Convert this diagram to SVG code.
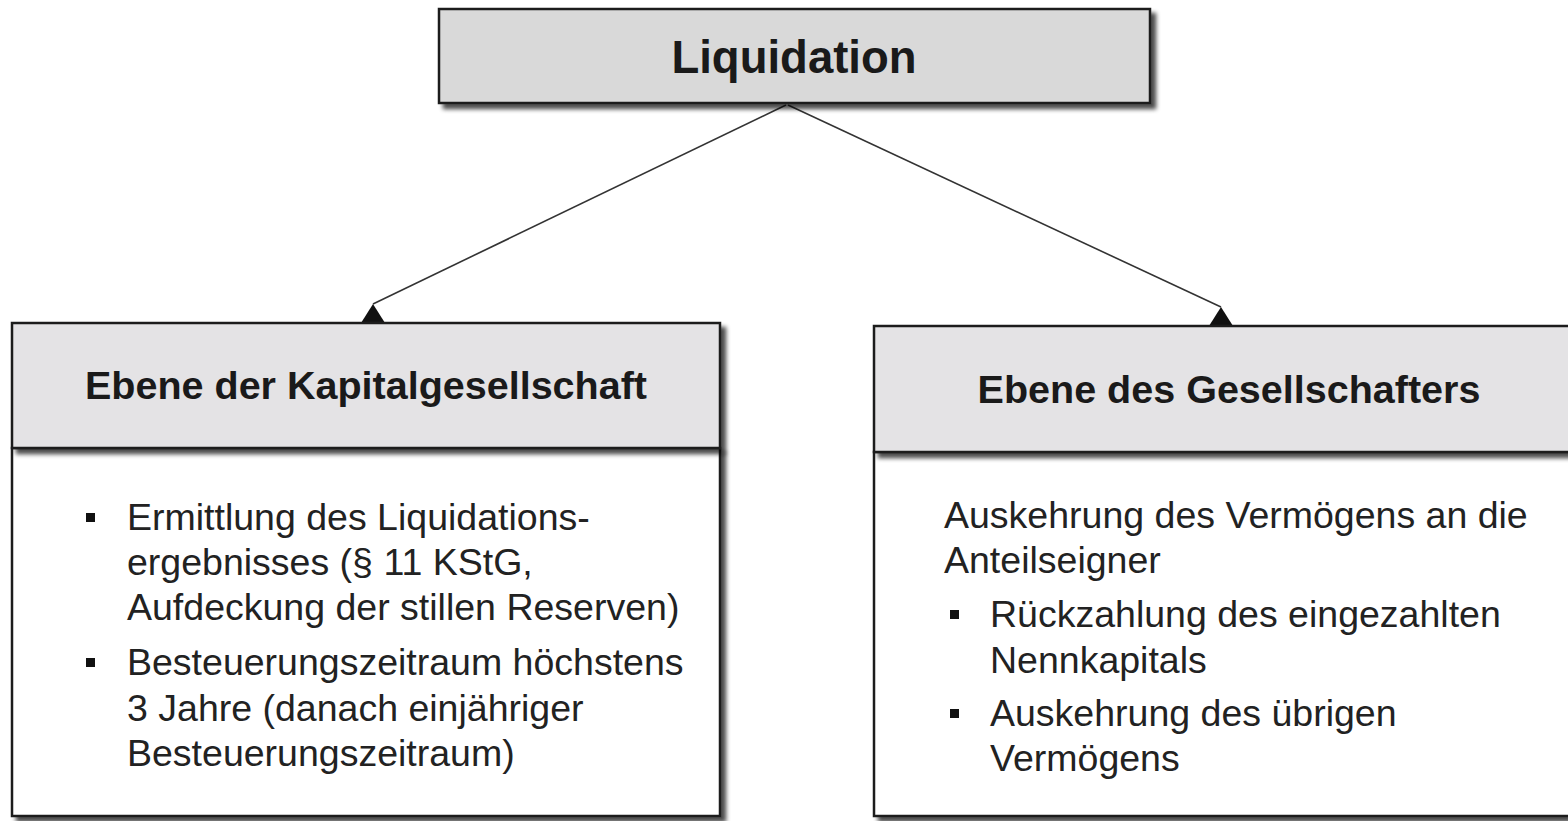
<svg xmlns="http://www.w3.org/2000/svg" width="1568" height="821" viewBox="0 0 1568 821">
<style>
.box{stroke:#1a1a1a;stroke-width:2.5}
.top{fill:#d9d9d9}
.hdr{fill:#e4e3e5}
.body{fill:#ffffff}
.t{font-family:"Liberation Sans",Arial,sans-serif;fill:#1a1a1a}
.b{font-weight:bold}
.h{font-size:39.5px;font-weight:bold;text-anchor:middle}
.p{font-size:37.5px;fill:#222}
.bul{fill:#111}
.con{stroke:#333;stroke-width:1.6;fill:none}
</style>
<defs>
<filter id="sh" x="-5%" y="-10%" width="115%" height="130%">
<feGaussianBlur in="SourceAlpha" stdDeviation="2"/>
<feOffset dx="5" dy="5" result="o"/>
<feComponentTransfer><feFuncA type="linear" slope="0.7"/></feComponentTransfer>
<feMerge><feMergeNode/><feMergeNode in="SourceGraphic"/></feMerge>
</filter>
<marker id="ah" markerUnits="userSpaceOnUse" markerWidth="26" markerHeight="22" refX="12" refY="0" orient="0" overflow="visible">
<path d="M0,19 L12,0 L24,19 z" fill="#111"/>
</marker>
</defs>
<rect width="1568" height="821" fill="#ffffff"/>
<g id="connectors">
<line class="con" x1="786" y1="105" x2="373" y2="304" marker-end="url(#ah)"/>
<line class="con" x1="788" y1="105" x2="1221" y2="307" marker-end="url(#ah)"/>
</g>
<g id="liquidation">
<rect class="box top" x="439" y="9" width="711" height="94" filter="url(#sh)"/>
<text class="t b" x="794" y="73" font-size="45.5" text-anchor="middle">Liquidation</text>
</g>
<g id="kapitalgesellschaft">
<rect class="box body" x="12" y="448" width="708" height="368" filter="url(#sh)"/>
<rect class="box hdr" x="12" y="323" width="708" height="125" filter="url(#sh)"/>
<text class="t h" x="366" y="399">Ebene der Kapitalgesellschaft</text>
<rect class="bul" x="86" y="513" width="9" height="9"/>
<rect class="bul" x="86" y="658" width="9" height="9"/>
<text class="t p"><tspan x="127" y="530">Ermittlung des Liquidations-</tspan><tspan x="127" y="575">ergebnisses (§ 11 KStG,</tspan><tspan x="127" y="620">Aufdeckung der stillen Reserven)</tspan><tspan x="127" y="675">Besteuerungszeitraum höchstens</tspan><tspan x="127" y="721">3 Jahre (danach einjähriger</tspan><tspan x="127" y="766">Besteuerungszeitraum)</tspan></text>
</g>
<g id="gesellschafter">
<rect class="box body" x="874" y="452" width="710" height="364" filter="url(#sh)"/>
<rect class="box hdr" x="874" y="326" width="710" height="126" filter="url(#sh)"/>
<text class="t h" x="1229" y="403">Ebene des Gesellschafters</text>
<rect class="bul" x="950" y="610" width="9" height="9"/>
<rect class="bul" x="950" y="709" width="9" height="9"/>
<text class="t p"><tspan x="944" y="528">Auskehrung des Vermögens an die</tspan><tspan x="944" y="573">Anteilseigner</tspan><tspan x="990" y="627">Rückzahlung des eingezahlten</tspan><tspan x="990" y="673">Nennkapitals</tspan><tspan x="990" y="726">Auskehrung des übrigen</tspan><tspan x="990" y="771">Vermögens</tspan></text>
</g>
</svg>
